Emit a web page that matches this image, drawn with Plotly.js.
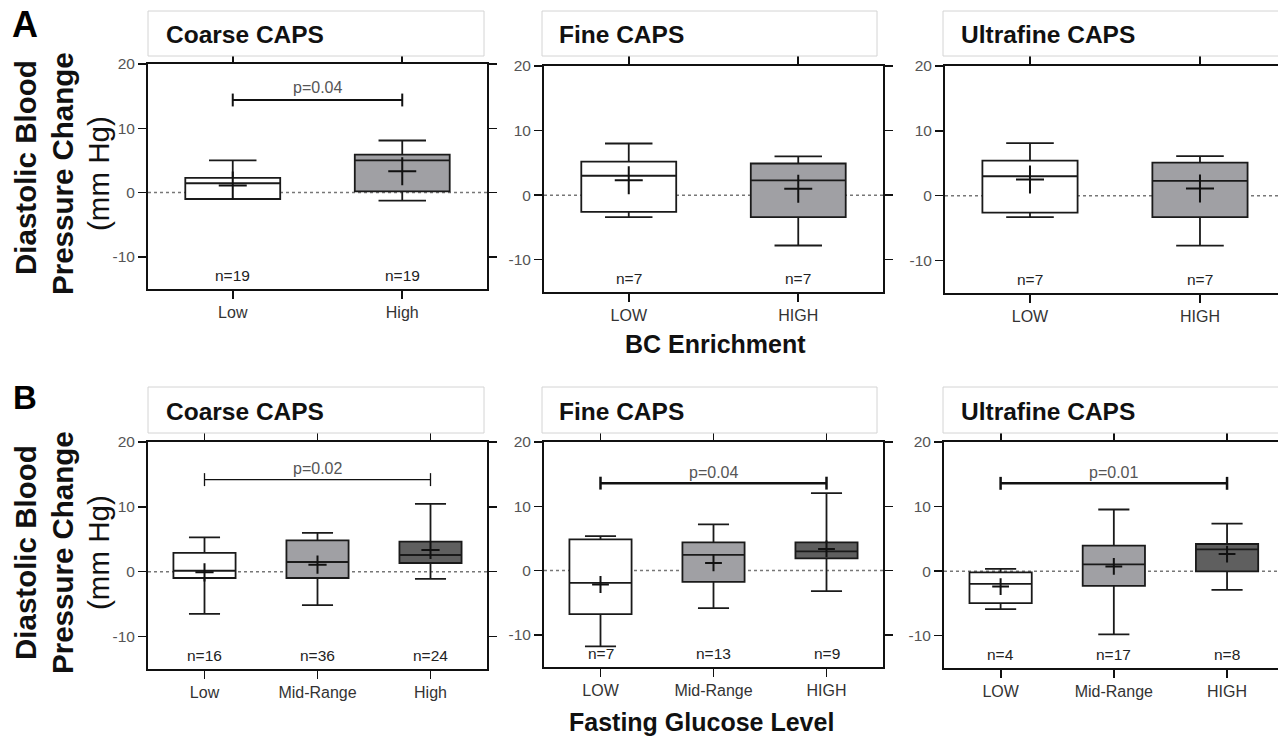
<!DOCTYPE html>
<html>
<head>
<meta charset="utf-8">
<script src="https://cdn.plot.ly/plotly-3.0.1.min.js"></script>
<style>html,body{margin:0;padding:0;background:#fff;overflow:hidden;}#chart{width:1278px;height:736px;}</style>
</head>
<body>
<div id="chart"></div>
<script>
// ---------- categories ----------
const catsACoarse = ['Low', 'High'];
const catsAFine = ['LOW', 'HIGH'];
const catsAUltra = ['LOW', 'HIGH'];
const catsBCoarse = ['Low', 'Mid-Range', 'High'];
const catsBFine = ['LOW', 'Mid-Range', 'HIGH'];
const catsBUltra = ['LOW', 'Mid-Range', 'HIGH'];

// ---------- y tick labels ----------
const yTickVals = [20, 10, 0, -10];
const yTickText = ['20', '10', '0', '-10'];

// ---------- A: BC enrichment ----------
const aCoarseLo = [-1.0, -1.25];
const aCoarseQ1 = [-1.0, 0.2];
const aCoarseMed = [1.45, 5.0];
const aCoarseQ3 = [2.3, 5.9];
const aCoarseHi = [5.0, 8.1];
const aCoarseMean = [1.1, 3.3];
const aCoarseN = ['n=19', 'n=19'];

const aFineLo = [-3.4, -7.8];
const aFineQ1 = [-2.6, -3.4];
const aFineMed = [3.0, 2.3];
const aFineQ3 = [5.2, 4.9];
const aFineHi = [8.0, 6.0];
const aFineMean = [2.3, 1.0];
const aFineN = ['n=7', 'n=7'];

const aUltraLo = [-3.3, -7.7];
const aUltraQ1 = [-2.6, -3.3];
const aUltraMed = [3.0, 2.3];
const aUltraQ3 = [5.4, 5.1];
const aUltraHi = [8.1, 6.1];
const aUltraMean = [2.5, 1.1];
const aUltraN = ['n=7', 'n=7'];

// ---------- B: fasting glucose ----------
const bCoarseLo = [-6.5, -5.15, -1.1];
const bCoarseQ1 = [-0.97, -0.97, 1.34];
const bCoarseMed = [0.15, 1.5, 2.58];
const bCoarseQ3 = [2.9, 4.84, 4.64];
const bCoarseHi = [5.3, 6.0, 10.46];
const bCoarseMean = [-0.1, 1.08, 3.35];
const bCoarseN = ['n=16', 'n=36', 'n=24'];

const bFineLo = [-11.8, -5.84, -3.2];
const bFineQ1 = [-6.78, -1.76, 1.91];
const bFineMed = [-1.91, 2.43, 3.0];
const bFineQ3 = [4.85, 4.4, 4.4];
const bFineHi = [5.37, 7.18, 12.05];
const bFineMean = [-2.17, 1.19, 3.36];
const bFineN = ['n=7', 'n=13', 'n=9'];

const bUltraLo = [-5.87, -9.8, -2.91];
const bUltraQ1 = [-4.94, -2.29, -0.05];
const bUltraMed = [-1.97, 1.04, 3.38];
const bUltraQ3 = [-0.2, 3.94, 4.2];
const bUltraHi = [0.36, 9.55, 7.37];
const bUltraMean = [-2.39, 0.73, 2.65];
const bUltraN = ['n=4', 'n=17', 'n=8'];

// ---------- p values ----------
const pValues = ['p=0.04', '', '', 'p=0.02', 'p=0.04', 'p=0.01'];

// ---------- styles ----------
const fills2 = ['#ffffff', '#a0a0a4'];
const fills3 = ['#ffffff', '#a0a0a4', '#5f5f5f'];
const FONT = 'Liberation Sans, Arial, Helvetica, sans-serif';
const W = 1278, H = 736;
const fx = v => v / W;
const fy = v => 1 - v / H;

const panels = [
  {cats: catsACoarse, lo: aCoarseLo, q1: aCoarseQ1, med: aCoarseMed, q3: aCoarseQ3, hi: aCoarseHi, mean: aCoarseMean, n: aCoarseN,
   fills: fills2, xpx: [148, 487], ypx: [64, 289], xr: [-0.5, 1.5], mirrorY: 'allticks', bw: 0.56, cross: 20,
   title: 'Coarse CAPS', tb: [148, 484, 11, 56], tx: 164, ty: 34, p: pValues[0], pY: 16.4, brY: 14.4, cap: 1.0, brW: 2},
  {cats: catsAFine, lo: aFineLo, q1: aFineQ1, med: aFineMed, q3: aFineQ3, hi: aFineHi, mean: aFineMean, n: aFineN,
   fills: fills2, xpx: [544, 883], ypx: [66, 292], xr: [-0.5, 1.5], mirrorY: 'allticks', bw: 0.56, cross: 20,
   title: 'Fine CAPS', tb: [542, 877, 11, 56], tx: 557, ty: 34, p: pValues[1]},
  {cats: catsAUltra, lo: aUltraLo, q1: aUltraQ1, med: aUltraMed, q3: aUltraQ3, hi: aUltraHi, mean: aUltraMean, n: aUltraN,
   fills: fills2, xpx: [945, 1278], ypx: [66, 293], xr: [-0.5, 1.459], mirrorY: false, bw: 0.56, cross: 20,
   title: 'Ultrafine CAPS', tb: [943, 1290, 11, 56], tx: 959, ty: 34, p: pValues[2]},
  {cats: catsBCoarse, lo: bCoarseLo, q1: bCoarseQ1, med: bCoarseMed, q3: bCoarseQ3, hi: bCoarseHi, mean: bCoarseMean, n: bCoarseN,
   fills: fills3, xpx: [148, 487], ypx: [442, 669], xr: [-0.5, 2.5], mirrorY: 'allticks', bw: 0.55, cross: 13,
   title: 'Coarse CAPS', tb: [148, 484, 387, 433], tx: 164, ty: 411, p: pValues[3], pY: 15.9, brY: 14.2, cap: 1.0, brW: 1.3},
  {cats: catsBFine, lo: bFineLo, q1: bFineQ1, med: bFineMed, q3: bFineQ3, hi: bFineHi, mean: bFineMean, n: bFineN,
   fills: fills3, xpx: [544, 883], ypx: [442, 667], xr: [-0.5, 2.5], mirrorY: 'allticks', bw: 0.55, cross: 12,
   title: 'Fine CAPS', tb: [542, 877, 387, 433], tx: 557, ty: 411, p: pValues[4], pY: 15.3, brY: 13.6, cap: 1.0, brW: 2.5},
  {cats: catsBUltra, lo: bUltraLo, q1: bUltraQ1, med: bUltraMed, q3: bUltraQ3, hi: bUltraHi, mean: bUltraMean, n: bUltraN,
   fills: fills3, xpx: [944, 1278], ypx: [442, 668], xr: [-0.5, 2.45], mirrorY: false, bw: 0.55, cross: 12,
   title: 'Ultrafine CAPS', tb: [943, 1290, 387, 433], tx: 959, ty: 411, p: pValues[5], pY: 15.3, brY: 13.6, cap: 1.0, brW: 2.5}
];

const data = [];
const shapes = [];
const annotations = [];
const layout = {
  width: W, height: H, margin: {l: 0, r: 0, t: 0, b: 0},
  paper_bgcolor: '#ffffff', plot_bgcolor: 'rgba(0,0,0,0)',
  showlegend: false, font: {family: FONT, color: '#222'}
};

panels.forEach((pn, i) => {
  const k = i === 0 ? '' : String(i + 1);
  const xa = 'x' + k, ya = 'y' + k;
  layout['xaxis' + k] = {
    type: 'category', domain: [fx(pn.xpx[0]), fx(pn.xpx[1])], anchor: ya, range: pn.xr,
    showline: true, linecolor: '#111', linewidth: 2, mirror: 'allticks',
    ticks: 'outside', ticklen: 8, tickwidth: 1.8, tickcolor: '#111',
    showgrid: false, zeroline: false, fixedrange: true,
    tickfont: {family: FONT, size: 16, color: '#333'}
  };
  layout['yaxis' + k] = {
    domain: [fy(pn.ypx[1]), fy(pn.ypx[0])], anchor: xa, range: [-15, 20],
    tickmode: 'array', tickvals: yTickVals, ticktext: yTickText,
    showline: true, linecolor: '#111', linewidth: 2, mirror: pn.mirrorY,
    ticks: 'outside', ticklen: 8, tickwidth: 1.5, tickcolor: '#111',
    showgrid: false, zeroline: false, fixedrange: true,
    tickfont: {family: FONT, size: 15.5, color: '#555'}
  };
  // dotted zero line
  shapes.push({type: 'line', xref: xa + ' domain', yref: ya, x0: 0, x1: 1, y0: 0, y1: 0,
    line: {color: '#777', width: 1.5, dash: 'dot'}, layer: 'below'});
  // boxes
  pn.cats.forEach((c, j) => {
    data.push({
      type: 'box', xaxis: xa, yaxis: ya, x: [c],
      q1: [pn.q1[j]], median: [pn.med[j]], q3: [pn.q3[j]],
      lowerfence: [pn.lo[j]], upperfence: [pn.hi[j]],
      boxpoints: false, width: pn.bw, whiskerwidth: 0.5,
      fillcolor: pn.fills[j], line: {color: '#1a1a1a', width: 1.8},
      hoverinfo: 'skip'
    });
    annotations.push({xref: xa, yref: ya, x: c, y: -12.9, text: pn.n[j], showarrow: false,
      font: {family: FONT, size: 15.5, color: '#222'}, xanchor: 'center', yanchor: 'middle'});
  });
  // means
  data.push({
    type: 'scatter', mode: 'markers', xaxis: xa, yaxis: ya, x: pn.cats, y: pn.mean,
    marker: {symbol: 'cross-thin', size: pn.cross, line: {color: '#111', width: 2}},
    hoverinfo: 'skip'
  });
  // significance bracket
  if (pn.p) {
    const c0 = pn.cats[0], c1 = pn.cats[pn.cats.length - 1];
    const lw = {color: '#111', width: pn.brW};
    shapes.push({type: 'line', xref: xa, yref: ya, x0: c0, x1: c1, y0: pn.brY, y1: pn.brY, line: lw});
    shapes.push({type: 'line', xref: xa, yref: ya, x0: c0, x1: c0, y0: pn.brY - pn.cap, y1: pn.brY + pn.cap, line: lw});
    shapes.push({type: 'line', xref: xa, yref: ya, x0: c1, x1: c1, y0: pn.brY - pn.cap, y1: pn.brY + pn.cap, line: lw});
    annotations.push({xref: xa, yref: ya, x: (pn.cats.length - 1) / 2, y: pn.pY, text: pn.p, showarrow: false,
      font: {family: FONT, size: 16, color: '#555'}, xanchor: 'center', yanchor: 'middle'});
  }
  // title box
  shapes.push({type: 'rect', xref: 'paper', yref: 'paper',
    x0: fx(pn.tb[0]), x1: fx(pn.tb[1]), y0: fy(pn.tb[3]), y1: fy(pn.tb[2]),
    line: {color: '#d4d4d4', width: 1}, fillcolor: '#ffffff'});
  annotations.push({xref: 'paper', yref: 'paper', x: fx(pn.tx), y: fy(pn.ty), text: '<b>' + pn.title + '</b>',
    showarrow: false, xanchor: 'left', yanchor: 'middle', font: {family: FONT, size: 24.5, color: '#111'}});
});

// panel letters
annotations.push({xref: 'paper', yref: 'paper', x: fx(25), y: fy(24), text: '<b>A</b>', showarrow: false,
  xanchor: 'center', yanchor: 'middle', font: {family: FONT, size: 36, color: '#000'}});
annotations.push({xref: 'paper', yref: 'paper', x: fx(25), y: fy(397), text: '<b>B</b>', showarrow: false,
  xanchor: 'center', yanchor: 'middle', font: {family: FONT, size: 33, color: '#000'}});

// y-axis titles
[[168, 174, 174], [553, 553, 553]].forEach(cy => {
  annotations.push({xref: 'paper', yref: 'paper', x: fx(25), y: fy(cy[0]), text: '<b>Diastolic Blood</b>', textangle: -90,
    showarrow: false, xanchor: 'center', yanchor: 'middle', font: {family: FONT, size: 29.5, color: '#111'}});
  annotations.push({xref: 'paper', yref: 'paper', x: fx(62), y: fy(cy[1]), text: '<b>Pressure Change</b>', textangle: -90,
    showarrow: false, xanchor: 'center', yanchor: 'middle', font: {family: FONT, size: 29.5, color: '#111'}});
  annotations.push({xref: 'paper', yref: 'paper', x: fx(98), y: fy(cy[2]), text: '(mm Hg)', textangle: -90,
    showarrow: false, xanchor: 'center', yanchor: 'middle', font: {family: FONT, size: 29.5, color: '#111'}});
});

// x-axis group titles
annotations.push({xref: 'paper', yref: 'paper', x: fx(715), y: fy(344), text: '<b>BC Enrichment</b>', showarrow: false,
  xanchor: 'center', yanchor: 'middle', font: {family: FONT, size: 25, color: '#111'}});
annotations.push({xref: 'paper', yref: 'paper', x: fx(701), y: fy(722), text: '<b>Fasting Glucose Level</b>', showarrow: false,
  xanchor: 'center', yanchor: 'middle', font: {family: FONT, size: 25, color: '#111'}});

layout.shapes = shapes;
layout.annotations = annotations;

Plotly.newPlot('chart', data, layout, {staticPlot: true, displayModeBar: false});
</script>
</body>
</html>
